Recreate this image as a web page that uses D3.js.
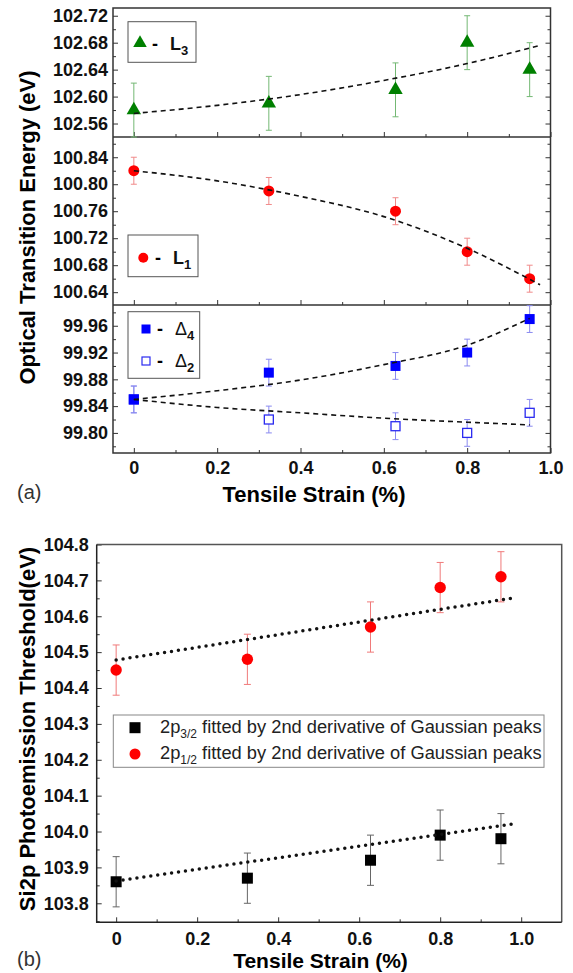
<!DOCTYPE html>
<html>
<head>
<meta charset="utf-8">
<script src="https://cdn.jsdelivr.net/npm/d3@7"></script>
<style>
  body { margin: 0; background: #fff; }
  text { font-family: "Liberation Sans", Arial, sans-serif; }
</style>
</head>
<body>
<div id="chart"></div>
<script>
// strain (%) of the five samples, shared by every series
const strain = [0, 0.324, 0.628, 0.80, 0.95];

// panel (a) : optical transitions
const L3 = [102.58, 102.59, 102.61, 102.68, 102.64];
const L3err = [0.04, 0.04, 0.04, 0.04, 0.04];
const L1 = [100.82, 100.79, 100.76, 100.70, 100.66];
const L1err = [0.02, 0.02, 0.02, 0.02, 0.02];
const D4 = [99.85, 99.89, 99.90, 99.92, 99.97];
const D4err = [0.02, 0.02, 0.02, 0.02, 0.02];
const D2 = [99.85, 99.82, 99.81, 99.80, 99.83];
const D2err = [0.02, 0.02, 0.02, 0.02, 0.02];

// dashed fit curves
const L3fitX = [0, 0.2, 0.4, 0.6, 0.8, 0.975];
const L3fit = [102.575, 102.587, 102.603, 102.624, 102.649, 102.676];
const L1fitX = [0, 0.2, 0.4, 0.6, 0.8, 0.975];
const L1fit = [100.82, 100.805, 100.782, 100.752, 100.705, 100.651];
const D4fitX = [0, 0.2, 0.4, 0.6, 0.8, 0.95];
const D4fit = [99.85, 99.863, 99.879, 99.902, 99.931, 99.971];
const D2fitX = [0, 0.2, 0.4, 0.6, 0.8, 0.95];
const D2fit = [99.85, 99.838, 99.830, 99.822, 99.816, 99.812];

// panel (b) : Si2p photoemission threshold
const p12 = [104.45, 104.48, 104.57, 104.68, 104.71];
const p12err = [0.07, 0.07, 0.07, 0.07, 0.07];
const p32 = [103.86, 103.87, 103.92, 103.99, 103.98];
const p32err = [0.07, 0.07, 0.07, 0.07, 0.07];
const fitBX = [0, 0.98];
const p12fit = [104.478, 104.651];
const p32fit = [103.862, 104.021];

// tick values
const xMajor = [0, 0.2, 0.4, 0.6, 0.8, 1.0];
const xMinor = [0.1, 0.3, 0.5, 0.7, 0.9];
const yTopTicks = [102.56, 102.60, 102.64, 102.68, 102.72];
const yMidTicks = [100.64, 100.68, 100.72, 100.76, 100.80, 100.84];
const yBotTicks = [99.80, 99.84, 99.88, 99.92, 99.96];
const yBTicks = [103.8, 103.9, 104.0, 104.1, 104.2, 104.3, 104.4, 104.5, 104.6, 104.7, 104.8];

const FONT = '"Liberation Sans", Arial, sans-serif';

const svg = d3.select("#chart")
  .append("svg")
    .attr("width", 573)
    .attr("height", 973);

const xfmt = d => d === 0 ? "0" : d3.format(".1f")(d);
const zip = (xs, ys) => xs.map((x, i) => [x, ys[i]]);

// ---------- panel (a) ----------
const aL = 113, aR = 550.5;
const xa = d3.scaleLinear().domain([-0.05, 1.0]).range([aL, aR]);

const subs = [
  { y: d3.scaleLinear().domain([102.54, 102.7315]).range([137, 8]), ticks: yTopTicks, fmt: ".2f" },
  { y: d3.scaleLinear().domain([100.621, 100.87]).range([305, 137]), ticks: yMidTicks, fmt: ".2f" },
  { y: d3.scaleLinear().domain([99.77, 99.991]).range([453, 305]), ticks: yBotTicks, fmt: ".2f" }
];

function minorsOf(ticks, step) {
  const out = [];
  ticks.forEach(t => { out.push(t - step / 2); });
  out.push(ticks[ticks.length - 1] + step / 2);
  return out;
}

subs.forEach(s => {
  const [y0, y1] = s.y.range();
  const step = s.ticks[1] - s.ticks[0];
  const lo = s.y.domain()[0], hi = s.y.domain()[1];
  const minors = minorsOf(s.ticks, step).filter(v => v > lo && v < hi);

  // left axis
  const gl = svg.append("g").attr("transform", `translate(${aL},0)`)
    .call(d3.axisLeft(s.y).tickValues(s.ticks).tickSize(-5).tickSizeOuter(0).tickPadding(5).tickFormat(d3.format(s.fmt)));
  gl.select(".domain").remove();
  gl.selectAll("text").attr("font-size", 18).attr("font-weight", "bold").attr("font-family", FONT).attr("fill", "#111");
  svg.append("g").attr("transform", `translate(${aL},0)`)
    .call(d3.axisLeft(s.y).tickValues(minors).tickSize(-3).tickFormat(""))
    .select(".domain").remove();

  // right axis
  svg.append("g").attr("transform", `translate(${aR},0)`)
    .call(d3.axisRight(s.y).tickValues(s.ticks).tickSize(-5).tickFormat(""))
    .select(".domain").remove();
  svg.append("g").attr("transform", `translate(${aR},0)`)
    .call(d3.axisRight(s.y).tickValues(minors).tickSize(-3).tickFormat(""))
    .select(".domain").remove();

  // bottom ticks of each sub-panel
  const gb = svg.append("g").attr("transform", `translate(0,${y0})`)
    .call(d3.axisBottom(xa).tickValues(xMajor).tickSize(-5).tickPadding(8).tickFormat(xfmt));
  gb.select(".domain").remove();
  if (y0 !== 453) gb.selectAll("text").remove();
  else gb.selectAll("text").attr("font-size", 18).attr("font-weight", "bold").attr("font-family", FONT).attr("fill", "#111");
  svg.append("g").attr("transform", `translate(0,${y0})`)
    .call(d3.axisBottom(xa).tickValues(xMinor).tickSize(-3).tickFormat(""))
    .select(".domain").remove();
});

svg.selectAll(".tick line").attr("stroke", "#333");

// frame of panel (a) with separators
svg.append("rect")
  .attr("x", aL).attr("y", 8).attr("width", aR - aL).attr("height", 453 - 8)
  .attr("fill", "none").attr("stroke", "#333").attr("stroke-width", 1.5);
[137, 305].forEach(yy => {
  svg.append("line").attr("x1", aL).attr("x2", aR).attr("y1", yy).attr("y2", yy)
    .attr("stroke", "#333").attr("stroke-width", 1.5);
});

function errBars(x, y, vals, errs, color, cap) {
  const g = svg.append("g");
  vals.forEach((v, i) => {
    const cx = x(strain[i]);
    g.append("line").attr("x1", cx).attr("x2", cx).attr("y1", y(v - errs[i])).attr("y2", y(v + errs[i]))
      .attr("stroke", color).attr("stroke-width", 1);
    [v - errs[i], v + errs[i]].forEach(e => {
      g.append("line").attr("x1", cx - cap).attr("x2", cx + cap).attr("y1", y(e)).attr("y2", y(e))
        .attr("stroke", color).attr("stroke-width", 1);
    });
  });
}

function fitCurve(x, y, xs, ys, dash, width) {
  svg.append("path")
    .datum(zip(xs, ys))
    .attr("d", d3.line().x(d => x(d[0])).y(d => y(d[1])).curve(d3.curveMonotoneX))
    .attr("fill", "none")
    .attr("stroke", "#111")
    .attr("stroke-width", width)
    .attr("stroke-dasharray", dash)
    .attr("stroke-linecap", dash === "0,7" ? "round" : "butt");
}

const yT = subs[0].y, yM = subs[1].y, yB = subs[2].y;

// L3
errBars(xa, yT, L3, L3err, "#74b874", 3);
svg.append("g").selectAll("path")
  .data(L3)
  .enter()
  .append("path")
    .attr("d", d3.symbol().type(d3.symbolTriangle).size(90))
    .attr("transform", (d, i) => `translate(${xa(strain[i])},${yT(d)})`)
    .attr("fill", "#008000");
fitCurve(xa, yT, L3fitX, L3fit, "5,4", 1.6);

// L1
errBars(xa, yM, L1, L1err, "#f08a8a", 3);
svg.append("g").selectAll("circle")
  .data(L1)
  .enter()
  .append("circle")
    .attr("cx", (d, i) => xa(strain[i]))
    .attr("cy", d => yM(d))
    .attr("r", 5.5)
    .attr("fill", "#ff0000");
fitCurve(xa, yM, L1fitX, L1fit, "5,4", 1.6);

// Delta 2 and Delta 4
errBars(xa, yB, D2, D2err, "#8a8af0", 3);
errBars(xa, yB, D4, D4err, "#8a8af0", 3);
svg.append("g").selectAll("rect")
  .data(D2)
  .enter()
  .append("rect")
    .attr("x", (d, i) => xa(strain[i]) - 4.5)
    .attr("y", d => yB(d) - 4.5)
    .attr("width", 9).attr("height", 9)
    .attr("fill", "#fff").attr("stroke", "#2a2af0").attr("stroke-width", 1.3);
svg.append("g").selectAll("rect")
  .data(D4)
  .enter()
  .append("rect")
    .attr("x", (d, i) => xa(strain[i]) - 5)
    .attr("y", d => yB(d) - 5)
    .attr("width", 10).attr("height", 10)
    .attr("fill", "#0000ff");
fitCurve(xa, yB, D4fitX, D4fit, "5,4", 1.6);
fitCurve(xa, yB, D2fitX, D2fit, "5,4", 1.6);

// legends of panel (a)
function legendBox(x, y, w, h, stroke) {
  svg.append("rect").attr("x", x).attr("y", y).attr("width", w).attr("height", h)
    .attr("fill", "#fff").attr("stroke", stroke).attr("stroke-width", 1);
}
function legendLabel(x, y, main, sub, mainWeight) {
  svg.append("text").attr("x", x - 18).attr("y", y).attr("font-size", 18).attr("font-weight", "bold").text("-");
  const t = svg.append("text").attr("x", x).attr("y", y).attr("font-size", 18).attr("fill", "#111");
  t.append("tspan").attr("font-weight", mainWeight).text(main);
  t.append("tspan").attr("font-weight", "bold").attr("font-size", 13).attr("dy", 5).text(sub);
}

legendBox(128, 21.7, 68, 40.6, "#555");
svg.append("path").attr("d", d3.symbol().type(d3.symbolTriangle).size(80))
  .attr("transform", "translate(140,43)").attr("fill", "#008000");
legendLabel(170, 50, "L", "3", "bold");

legendBox(128, 235, 70, 41.7, "#555");
svg.append("circle").attr("cx", 143.3).attr("cy", 257.7).attr("r", 5).attr("fill", "#ff0000");
legendLabel(173, 263.5, "L", "1", "bold");

legendBox(128, 311.7, 71.7, 66.6, "#555");
svg.append("rect").attr("x", 141.5).attr("y", 324.5).attr("width", 9).attr("height", 9).attr("fill", "#0000ff");
svg.append("rect").attr("x", 142).attr("y", 357).attr("width", 8).attr("height", 8)
  .attr("fill", "#fff").attr("stroke", "#2a2af0").attr("stroke-width", 1.2);
legendLabel(175, 335, "Δ", "4", "normal");
legendLabel(175, 367, "Δ", "2", "normal");

// titles of panel (a)
svg.append("text")
  .attr("transform", "translate(35,227.5) rotate(-90)")
  .attr("text-anchor", "middle")
  .attr("font-size", 22).attr("font-weight", "bold")
  .text("Optical Transition Energy (eV)");
svg.append("text")
  .attr("x", 314).attr("y", 501.5)
  .attr("text-anchor", "middle")
  .attr("font-size", 22).attr("font-weight", "bold")
  .text("Tensile Strain (%)");
svg.append("text").attr("x", 17).attr("y", 499).attr("font-size", 20).attr("fill", "#333").text("(a)");

// ---------- panel (b) ----------
const bL = 96.7, bR = 561.7, bT = 544.5, bB = 922.3;
const xb = d3.scaleLinear().domain([-0.048, 1.1]).range([bL, bR]);
const yb = d3.scaleLinear().domain([103.747, 104.8]).range([bB, bT]);
const yBMinor = yBTicks.map(t => t - 0.05).filter(v => v > 103.747);

const gbl = svg.append("g").attr("transform", `translate(${bL},0)`)
  .call(d3.axisLeft(yb).tickValues(yBTicks).tickSize(-5).tickPadding(8).tickFormat(d3.format(".1f")));
gbl.select(".domain").remove();
gbl.selectAll("text").attr("font-size", 18).attr("font-weight", "bold").attr("font-family", FONT).attr("fill", "#111");
svg.append("g").attr("transform", `translate(${bL},0)`)
  .call(d3.axisLeft(yb).tickValues(yBMinor).tickSize(-3).tickFormat(""))
  .select(".domain").remove();

const gbb = svg.append("g").attr("transform", `translate(0,${bB})`)
  .call(d3.axisBottom(xb).tickValues(xMajor).tickSize(-5).tickPadding(10).tickFormat(xfmt));
gbb.select(".domain").remove();
gbb.selectAll("text").attr("font-size", 18).attr("font-weight", "bold").attr("font-family", FONT).attr("fill", "#111");
svg.append("g").attr("transform", `translate(0,${bB})`)
  .call(d3.axisBottom(xb).tickValues(xMinor).tickSize(-3).tickFormat(""))
  .select(".domain").remove();

svg.selectAll(".tick line").attr("stroke", "#333");

// frame of panel (b)
svg.append("path")
  .attr("d", `M${bL},${bT}H${bR}V${bB}`)
  .attr("fill", "none").attr("stroke", "#555").attr("stroke-width", 1.5);
svg.append("path")
  .attr("d", `M${bL},${bT}V${bB}H${bR}`)
  .attr("fill", "none").attr("stroke", "#222").attr("stroke-width", 1.5);

errBars(xb, yb, p12, p12err, "#f07a7a", 3.5);
errBars(xb, yb, p32, p32err, "#666", 3.5);

svg.append("g").selectAll("circle")
  .data(p12)
  .enter()
  .append("circle")
    .attr("cx", (d, i) => xb(strain[i]))
    .attr("cy", d => yb(d))
    .attr("r", 5.7)
    .attr("fill", "#ff0000");
svg.append("g").selectAll("rect")
  .data(p32)
  .enter()
  .append("rect")
    .attr("x", (d, i) => xb(strain[i]) - 5.5)
    .attr("y", d => yb(d) - 5.5)
    .attr("width", 11).attr("height", 11)
    .attr("fill", "#000");

fitCurve(xb, yb, fitBX, p12fit, "0,7", 3.5);
fitCurve(xb, yb, fitBX, p32fit, "0,7", 3.5);

// legend of panel (b)
legendBox(113.3, 715, 430.7, 52.3, "#888");
svg.append("rect").attr("x", 129.5).attr("y", 722.2).attr("width", 11).attr("height", 11).attr("fill", "#000");
svg.append("circle").attr("cx", 135).attr("cy", 754).attr("r", 5.5).attr("fill", "#ff0000");
[["3/2", 733.3], ["1/2", 759]].forEach(([sub, yy]) => {
  const t = svg.append("text").attr("x", 160).attr("y", yy).attr("font-size", 18.3).attr("fill", "#222");
  t.append("tspan").text("2p");
  t.append("tspan").attr("font-size", 12).attr("dy", 5).text(sub);
  t.append("tspan").attr("dy", -5).text(" fitted by 2nd derivative of Gaussian peaks");
});

// titles of panel (b)
svg.append("text")
  .attr("transform", "translate(35,729) rotate(-90)")
  .attr("text-anchor", "middle")
  .attr("font-size", 22).attr("font-weight", "bold")
  .text("Si2p Photoemission Threshold(eV)");
svg.append("text")
  .attr("x", 320.5).attr("y", 968)
  .attr("text-anchor", "middle")
  .attr("font-size", 21).attr("font-weight", "bold")
  .text("Tensile Strain (%)");
svg.append("text").attr("x", 17).attr("y", 966).attr("font-size", 20).attr("fill", "#333").text("(b)");
</script>
</body>
</html>
